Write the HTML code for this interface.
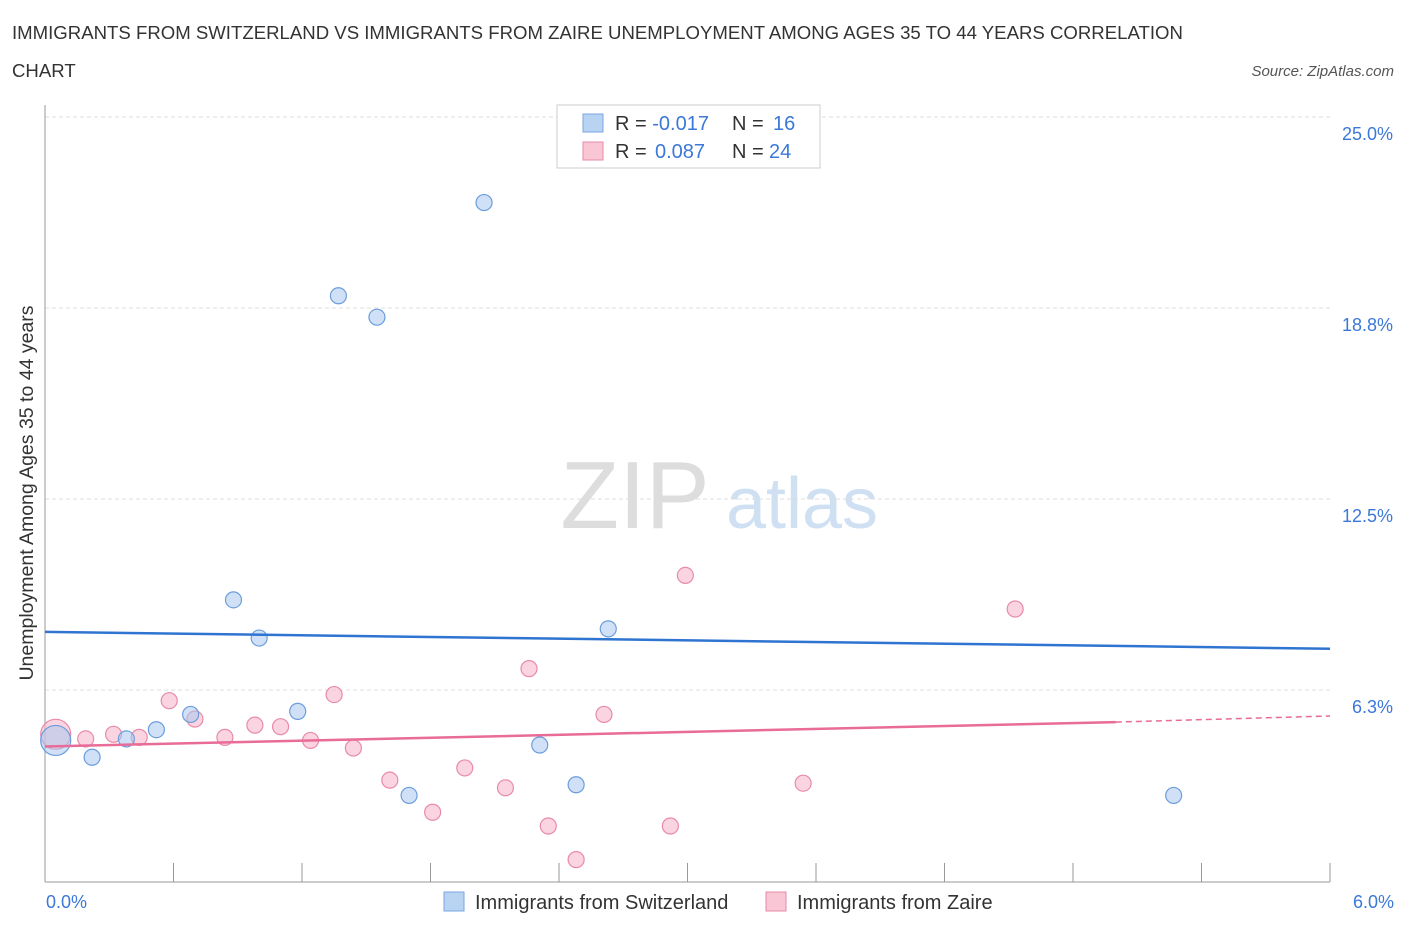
<!DOCTYPE html>
<html><head><meta charset="utf-8"><style>
body{margin:0;background:#fff;font-family:"Liberation Sans",sans-serif;}
svg text{font-family:"Liberation Sans",sans-serif;}
</style></head><body>
<svg id="chart" width="1406" height="930">
<text x="12" y="39" font-size="18.6" fill="#333">IMMIGRANTS FROM SWITZERLAND VS IMMIGRANTS FROM ZAIRE UNEMPLOYMENT AMONG AGES 35 TO 44 YEARS CORRELATION</text>
<text x="12" y="77" font-size="18.6" fill="#333">CHART</text>
<text x="1394" y="76" font-size="15" fill="#555" font-style="italic" text-anchor="end">Source: ZipAtlas.com</text>
<text x="635" y="528" font-size="96" fill="#ddd" font-family="Liberation Serif" text-anchor="middle">ZIP</text>
<text x="802" y="528" font-size="72" fill="#cfe0f3" text-anchor="middle">atlas</text>
<g id="grid"></g>
<line x1="45" y1="105" x2="45" y2="882" stroke="#999"/>
<line x1="45" y1="882" x2="1330" y2="882" stroke="#999"/>
<g id="marks"></g>
<text x="33" y="493" font-size="19.5" fill="#333" text-anchor="middle" transform="rotate(-90 33 493)">Unemployment Among Ages 35 to 44 years</text>
<text x="46" y="908" font-size="18" fill="#3b78d8">0.0%</text>
<text x="1394" y="908" font-size="18" fill="#3b78d8" text-anchor="end">6.0%</text>
<g>
<rect x="557" y="105" width="263" height="63" fill="#fff" stroke="#ccc"/>
<rect x="583" y="114" width="20" height="18" fill="#b9d3f3" stroke="#7aa6e0"/>
<rect x="583" y="142" width="20" height="18" fill="#f8c6d5" stroke="#e98aa8"/>
<text x="615" y="130" font-size="20" fill="#333">R = <tspan fill="#3b78d8">-0.017</tspan><tspan x="732">N = </tspan><tspan x="773" fill="#3b78d8">16</tspan></text>
<text x="615" y="158" font-size="20" fill="#333">R = <tspan x="655" fill="#3b78d8">0.087</tspan><tspan x="732">N = </tspan><tspan x="769" fill="#3b78d8">24</tspan></text>
</g>
<g>
<rect x="444" y="892" width="20" height="19" fill="#b9d3f3" stroke="#7aa6e0"/>
<text x="475" y="909" font-size="20" fill="#333">Immigrants from Switzerland</text>
<rect x="766" y="892" width="20" height="19" fill="#f8c6d5" stroke="#e98aa8"/>
<text x="797" y="909" font-size="20" fill="#333">Immigrants from Zaire</text>
</g>
</svg>
<script>
const yTicks=[6.25,12.5,18.75,25];
const yTickLabels=["6.3%","12.5%","18.8%","25.0%"];
const xTicks=[0,0.6,1.2,1.8,2.4,3.0,3.6,4.2,4.8,5.4,6.0];
const swissX=[2.05,1.37,1.55,0.88,1.0,2.63,0.68,1.18,0.52,0.38,0.22,0.05,2.31,2.48,1.70,5.27];
const swissY=[22.2,19.15,18.45,9.2,7.95,8.25,5.45,5.55,4.95,4.65,4.05,4.6,4.45,3.15,2.8,2.8];
const zaireX=[0.05,0.19,0.32,0.44,0.58,0.70,0.84,0.98,1.10,1.24,1.35,1.44,1.61,1.81,1.96,2.15,2.26,2.35,2.48,2.61,2.92,2.99,3.54,4.53];
const zaireY=[4.8,4.65,4.8,4.7,5.9,5.3,4.7,5.1,5.05,4.6,6.1,4.35,3.3,2.25,3.7,3.05,6.95,1.8,0.7,5.45,1.8,10.0,3.2,8.9];
const swissTrend=[[0,8.15],[6,7.6]];
const zaireTrend=[[0,4.4],[5.0,5.2],[6,5.4]];
const X=v=>45+v/6*1285, Y=v=>881-v*30.56;
const NS="http://www.w3.org/2000/svg";
const grid=document.getElementById('grid'), marks=document.getElementById('marks');
function mk(tag,attrs,parent){const e=document.createElementNS(NS,tag);for(const k in attrs)e.setAttribute(k,attrs[k]);parent.appendChild(e);return e;}
yTicks.forEach((t,i)=>{
 const l=mk('line',{x1:45,x2:1330,y1:Y(t),y2:Y(t),stroke:'#ddd','stroke-dasharray':'4,3'},grid);
 
 
 const tx=mk('text',{x:1393,y:Y(t)+23,'font-size':18,fill:'#3b78d8','text-anchor':'end'},grid);
 tx.textContent=yTickLabels[i];
 
 
});
xTicks.forEach(t=>{
 const l=mk('line',{x1:X(t),x2:X(t),y1:863,y2:882,stroke:'#999'},grid);
 
 
});
function dots(xs,ys,fill,stroke,name){
 xs.forEach((x,i)=>{
  const r=x<0.1?15:8;
  const c=mk('circle',{cx:X(x),cy:Y(ys[i]),r:r,fill:fill,'fill-opacity':0.55,stroke:stroke,'stroke-width':1.2},marks);
  
  
 });
}
dots(zaireX,zaireY,'#f6b3c8','#e98aa8','zaire-point');
dots(swissX,swissY,'#a9c8f0','#6c9ddc','switzerland-point');
const sl=mk('line',{x1:X(swissTrend[0][0]),y1:Y(swissTrend[0][1]),x2:X(swissTrend[1][0]),y2:Y(swissTrend[1][1]),stroke:'#2f74d0','stroke-width':2.5},marks);


const zl=mk('line',{x1:X(zaireTrend[0][0]),y1:Y(zaireTrend[0][1]),x2:X(zaireTrend[1][0]),y2:Y(zaireTrend[1][1]),stroke:'#e86b98','stroke-width':2.5},marks);


const zd=mk('line',{x1:X(zaireTrend[1][0]),y1:Y(zaireTrend[1][1]),x2:X(zaireTrend[2][0]),y2:Y(zaireTrend[2][1]),stroke:'#e86b98','stroke-width':1.5,'stroke-dasharray':'6,4'},marks);


</script>
</body></html>
